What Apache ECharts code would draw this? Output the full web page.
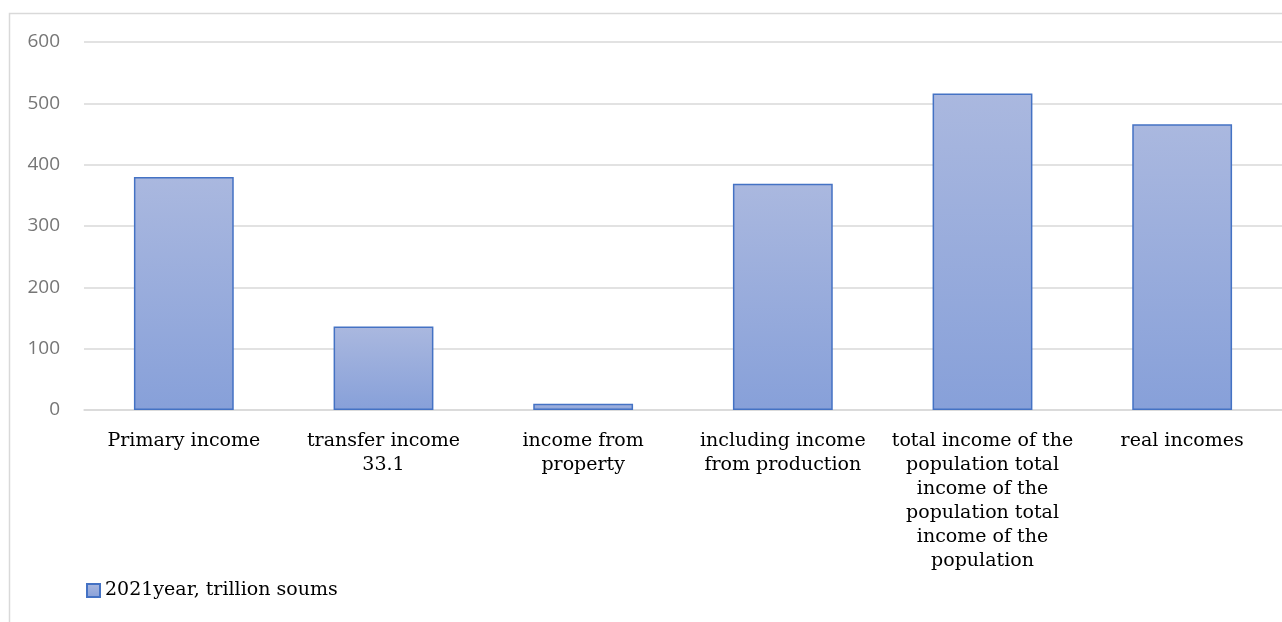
<!DOCTYPE html>
<html><head><meta charset="utf-8">
<script src="https://cdn.jsdelivr.net/npm/echarts@6/dist/echarts.min.js"></script>
<style>html,body{margin:0;padding:0;background:#fff}#c{width:1282px;height:622px}</style>
</head><body><div id="c"></div>
<script>
const categories = [
  'Primary income',
  'transfer income\n33.1',
  'income from\nproperty',
  'including income\nfrom production',
  'total income of the\npopulation total\nincome of the\npopulation total\nincome of the\npopulation',
  'real incomes'
];
const values = [380, 136, 10, 369, 516, 466];
const seriesName = '2021year, trillion soums';
const yTicks = { min: 0, max: 600, interval: 100 };

const chart = echarts.init(document.getElementById('c'));
chart.setOption({
  animation: false,
  graphic: [{ type: 'rect', shape: { x: 9.5, y: 13.5, width: 1400, height: 800 }, style: { fill: 'none', stroke: '#d9d9d9', lineWidth: 1.5 }, silent: true }],
  grid: { left: 84, right: -2, top: 42, bottom: 212 },
  legend: {
    left: 81, top: 576, itemWidth: 13, itemHeight: 13, itemGap: 4, icon: 'rect',
    textStyle: { fontFamily: 'DejaVu Serif', fontSize: 19, color: '#000' },
    data: [seriesName]
  },
  xAxis: {
    type: 'category', data: categories,
    axisLine: { show: true, lineStyle: { color: '#d9d9d9', width: 1.5 } },
    axisTick: { show: false },
    axisLabel: { interval: 0, margin: 19, fontFamily: 'DejaVu Serif', fontSize: 19, lineHeight: 24, color: '#000' }
  },
  yAxis: {
    type: 'value', min: yTicks.min, max: yTicks.max, interval: yTicks.interval,
    axisLine: { show: false }, axisTick: { show: false },
    splitLine: { lineStyle: { color: '#d9d9d9', width: 1.5 } },
    axisLabel: { margin: 24, fontFamily: 'Open Sans', fontSize: 19, color: '#767676' }
  },
  series: [{
    name: seriesName, type: 'bar', data: values, barWidth: '50%',
    itemStyle: {
      color: new echarts.graphic.LinearGradient(0, 0, 0, 1, [
        { offset: 0, color: '#aab8df' }, { offset: 1, color: '#87a0d9' }
      ]),
      borderColor: '#4472c4', borderWidth: 1.5
    }
  }]
});
</script></body></html>
